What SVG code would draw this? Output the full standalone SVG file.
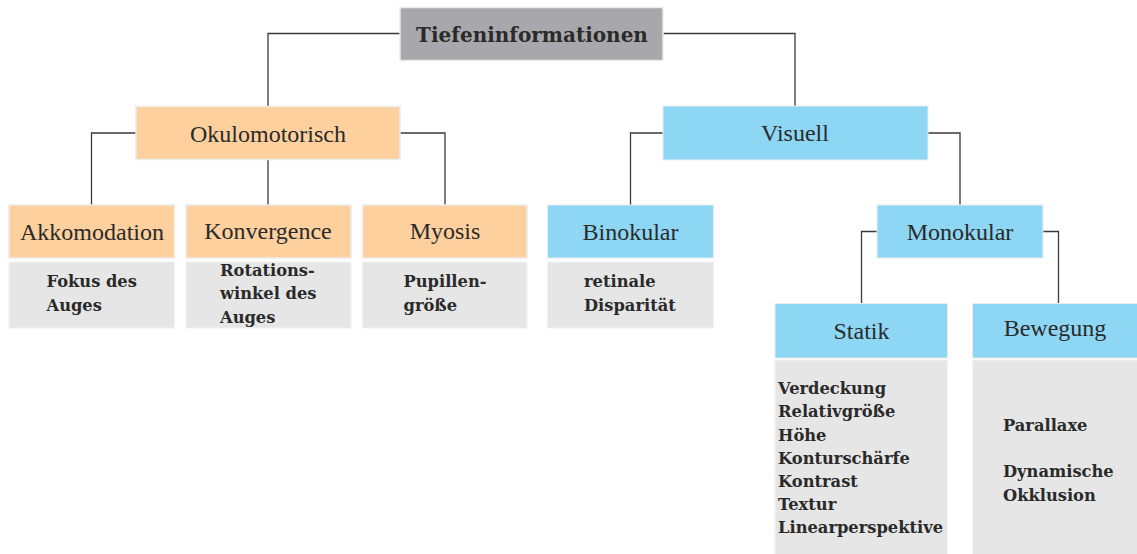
<svg xmlns="http://www.w3.org/2000/svg" width="1137" height="554" viewBox="0 0 1137 554">
<style>
.root{fill:#a8a8ac;stroke:#ececec;stroke-width:1.5}
.or{fill:#fdd09e;stroke:#ececec;stroke-width:1.5}
.bl{fill:#8dd7f5;stroke:#ececec;stroke-width:1}
.gr{fill:#e6e6e6;stroke:#f2f2f2;stroke-width:1}
.t{font-size:24px;fill:#2a2a2a;text-anchor:middle}
.tb{font-weight:bold;font-size:20px;fill:#2a2a2a;text-anchor:middle}
.d{font-weight:bold;font-size:16.3px;fill:#2a2a2a}
.c{fill:none;stroke:#3a3a3a;stroke-width:1.3}
</style>
<g id="connectors">
<path class="c" d="M400,33.5 H268 V107"/>
<path class="c" d="M663,33.5 H795 V106"/>
<path class="c" d="M136,133 H91.5 V205"/>
<path class="c" d="M268,159 V205"/>
<path class="c" d="M400,133 H445 V205"/>
<path class="c" d="M663,133 H630.5 V205"/>
<path class="c" d="M928,133 H960 V205"/>
<path class="c" d="M877,231.5 H861.5 V304"/>
<path class="c" d="M1043,231.5 H1058.5 V304"/>
</g>
<g id="n-tiefen">
<rect class="root" x="400" y="7.5" width="263" height="53"/>
<text class="tb" font-family="DejaVu Serif, serif" x="532" y="41.5">Tiefeninformationen</text>
</g>
<g font-family="Liberation Serif, Times New Roman, serif">
<g id="n-okulo">
<rect class="or" x="136" y="106.5" width="264" height="53"/>
<text class="t" x="268" y="141.5">Okulomotorisch</text>
</g>
<g id="n-visuell">
<rect class="bl" x="663" y="106" width="265" height="54"/>
<text class="t" x="795" y="141">Visuell</text>
</g>
<g id="n-akko">
<rect class="or" x="9" y="205" width="165.5" height="53"/>
<text class="t" x="92" y="240">Akkomodation</text>
<rect class="gr" x="9" y="262" width="165.5" height="66"/>
</g>
<g id="n-konv">
<rect class="or" x="186" y="205" width="165" height="53"/>
<text class="t" x="268" y="238.5">Konvergence</text>
<rect class="gr" x="186" y="262" width="165" height="66"/>
</g>
<g id="n-myosis">
<rect class="or" x="362.5" y="205" width="164.5" height="53"/>
<text class="t" x="445" y="238.5">Myosis</text>
<rect class="gr" x="362.5" y="262" width="164.5" height="66"/>
</g>
<g id="n-bino">
<rect class="bl" x="547.5" y="205" width="166" height="53"/>
<text class="t" x="630.5" y="240">Binokular</text>
<rect class="gr" x="547.5" y="262" width="166" height="66"/>
</g>
<g id="n-mono">
<rect class="bl" x="877" y="205" width="166" height="53"/>
<text class="t" x="960" y="239.5">Monokular</text>
</g>
<g id="n-statik">
<rect class="bl" x="775" y="303.5" width="172.5" height="54.5"/>
<text class="t" x="861.5" y="339">Statik</text>
<rect class="gr" x="775" y="360" width="172.5" height="195"/>
</g>
<g id="n-bewegung">
<rect class="bl" x="972.5" y="303.5" width="165" height="54.5"/>
<text class="t" x="1055" y="336">Bewegung</text>
<rect class="gr" x="972.5" y="360" width="165" height="195"/>
</g>
</g>
<g id="details" font-family="DejaVu Serif, serif">
<text class="d" x="46.5" y="287.3">Fokus des</text>
<text class="d" x="46.5" y="310.7">Auges</text>
<text class="d" x="220" y="276">Rotations-</text>
<text class="d" x="220" y="299.3">winkel des</text>
<text class="d" x="220" y="322.7">Auges</text>
<text class="d" x="403.5" y="287.3">Pupillen-</text>
<text class="d" x="403.5" y="310.7">größe</text>
<text class="d" x="584" y="287.3">retinale</text>
<text class="d" x="584" y="310.7">Disparität</text>
<text class="d" x="778" y="394">Verdeckung</text>
<text class="d" x="778" y="417.3">Relativgröße</text>
<text class="d" x="778" y="440.5">Höhe</text>
<text class="d" x="778" y="463.5">Konturschärfe</text>
<text class="d" x="778" y="486.8">Kontrast</text>
<text class="d" x="778" y="510">Textur</text>
<text class="d" x="778" y="533">Linearperspektive</text>
<text class="d" x="1003" y="430.7">Parallaxe</text>
<text class="d" x="1003" y="477.3">Dynamische</text>
<text class="d" x="1003" y="500.7">Okklusion</text>
</g>
</svg>
